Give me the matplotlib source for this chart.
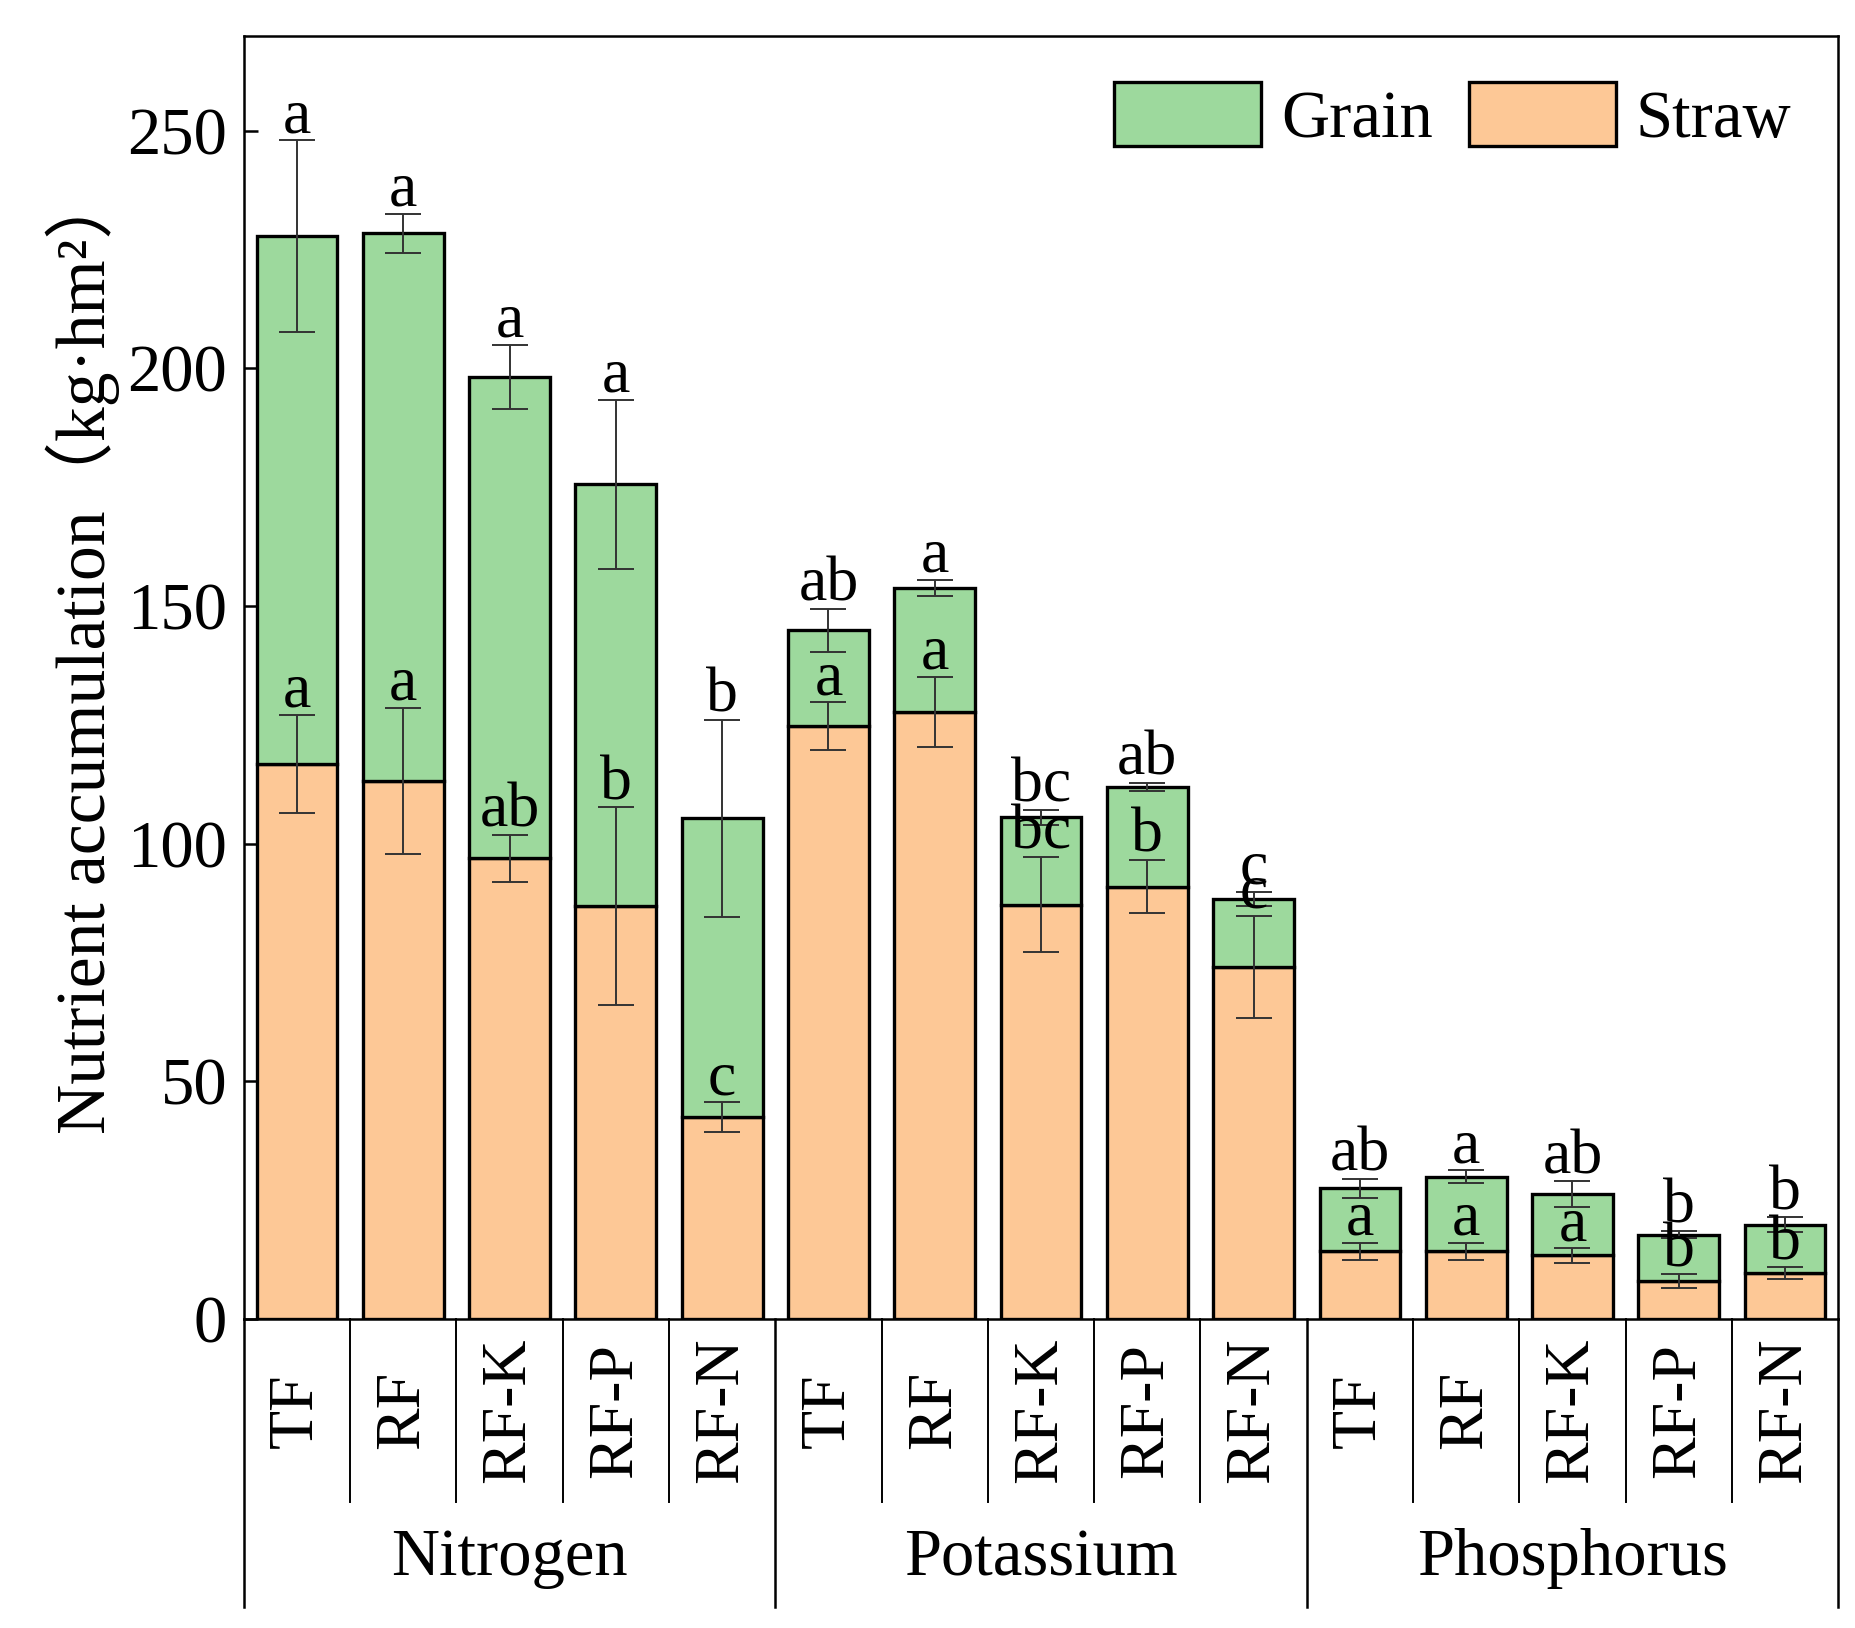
import matplotlib
matplotlib.use('Agg')
import matplotlib.pyplot as plt
import numpy as np

plt.rcParams['font.family'] = ['Liberation Serif', 'Noto Sans CJK SC']
plt.rcParams['font.size'] = 46

# DATOS
# -----
groups = ['Nitrogen', 'Potassium', 'Phosphorus']
treatments = ['TF', 'RF', 'RF-K', 'RF-P', 'RF-N']

# total (grain + straw) and straw, per group, in treatment order
total = [227.8, 228.4, 198.2, 175.6, 105.3,
         144.9, 153.7, 105.5, 111.9, 88.4,
         27.4, 29.9, 26.2, 17.7, 19.8]
total_err = [20.2, 4.2, 6.7, 17.8, 20.8,
             4.5, 1.7, 1.5, 0.9, 1.5,
             2.1, 1.3, 2.7, 0.7, 1.5]
straw = [116.7, 113.2, 96.9, 86.8, 42.4,
         124.7, 127.7, 87.1, 90.9, 74.0,
         14.2, 14.2, 13.3, 7.9, 9.6]
straw_err = [10.3, 15.4, 5.0, 20.8, 3.1,
             5.0, 7.4, 10.0, 5.6, 10.8,
             1.8, 1.8, 1.5, 1.4, 1.2]

grain_letters = ['a', 'a', 'a', 'a', 'b',
                 'ab', 'a', 'bc', 'ab', 'c',
                 'ab', 'a', 'ab', 'b', 'b']
straw_letters = ['a', 'a', 'ab', 'b', 'c',
                 'a', 'a', 'bc', 'b', 'c',
                 'a', 'a', 'a', 'b', 'b']

green = '#9dd99d'
orange = '#fdc896'

total = np.array(total)
straw = np.array(straw)
grain = total - straw
x = np.arange(len(total))
n_tr = len(treatments)

fig = plt.figure(figsize=(18.56, 16.28), dpi=100)
ax = fig.add_axes([0.1314, 0.190, 0.859, 0.788])

ax.bar(x, straw, width=0.76, color=orange, edgecolor='black', linewidth=2.4,
       label='Straw', zorder=2)
ax.bar(x, grain, bottom=straw, width=0.76, color=green, edgecolor='black',
       linewidth=2.4, label='Grain', zorder=2)

ax.errorbar(x, total, yerr=total_err, fmt='none', ecolor='#333333',
            elinewidth=1.4, capsize=13, capthick=1.4, zorder=3)
ax.errorbar(x, straw, yerr=straw_err, fmt='none', ecolor='#333333',
            elinewidth=1.4, capsize=13, capthick=1.4, zorder=3)

# letras de significancia
for i in x:
    ax.annotate(grain_letters[i], (i, total[i] + total_err[i]),
                xytext=(0, 6), textcoords='offset points',
                ha='center', va='baseline', fontsize=46, zorder=4)
    ax.annotate(straw_letters[i], (i, straw[i] + straw_err[i]),
                xytext=(0, 6), textcoords='offset points',
                ha='center', va='baseline', fontsize=46, zorder=4)

ax.set_xlim(-0.5, len(x) - 0.5)
ax.set_ylim(0, 270)
ax.set_yticks([0, 50, 100, 150, 200, 250])
ax.set_xticks([])
ax.tick_params(axis='y', direction='in', length=10, width=1.8, pad=12,
               labelsize=48)
for s in ax.spines.values():
    s.set_linewidth(1.8)

ax.set_ylabel('Nutrient accumulation（kg·hm²）', fontsize=50)
ax.yaxis.set_label_coords(-0.078, 0.52)

# etiquetas de categorías debajo del eje
trans = ax.get_xaxis_transform()
for i in x:
    ax.text(i, -0.0714, treatments[i % n_tr], rotation=90, ha='center',
            va='center', transform=trans, fontsize=46)
    if i < len(x) - 1 and (i + 1) % n_tr != 0:
        ax.plot([i + 0.5, i + 0.5], [0, -0.143], color='black', lw=1.4,
                transform=trans, clip_on=False)

for g, name in enumerate(groups):
    ax.text(g * n_tr + (n_tr - 1) / 2, -0.187, name, ha='center',
            va='center', transform=trans, fontsize=48)

for b in range(len(groups) + 1):
    xb = b * n_tr - 0.5
    ax.plot([xb, xb], [0, -0.2245], color='black', lw=1.8,
            transform=trans, clip_on=False)

handles, labels = ax.get_legend_handles_labels()
ax.legend(handles[::-1], labels[::-1], loc='upper right', ncol=2,
          frameon=False, handlelength=2.2, handleheight=1.1,
          handletextpad=0.3, columnspacing=0.55, borderaxespad=0.3,
          fontsize=48)

fig.savefig('out.png', dpi=100)
